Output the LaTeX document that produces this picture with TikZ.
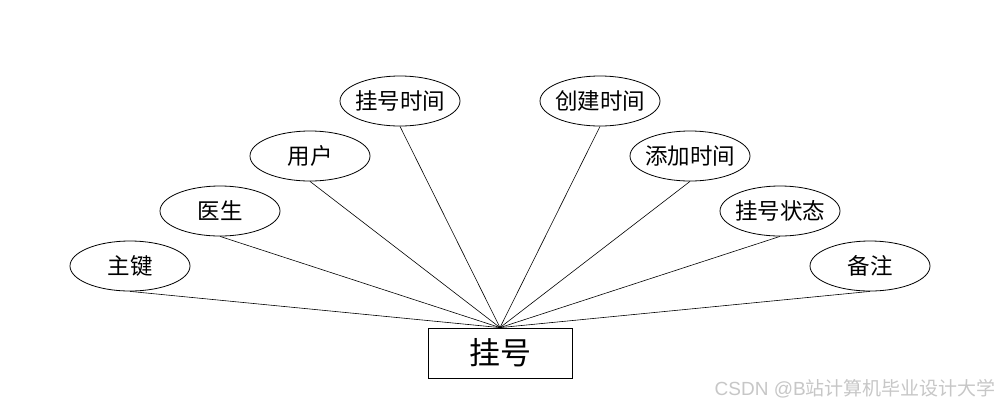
\documentclass[tikz,border=0pt]{standalone}
\usepackage{fontspec}
\setmainfont{Noto Sans CJK SC}
\newfontfamily\wmfont{Liberation Sans}
\newfontfamily\cjk{Noto Sans CJK SC}
\usetikzlibrary{shapes.geometric}
\begin{document}
\begin{tikzpicture}[x=1pt,y=-1pt,
  attr/.style={draw=black, line width=0.8pt, ellipse, minimum width=120pt, minimum height=50pt, inner xsep=-8pt, inner ysep=0pt, font=\cjk\fontsize{22.5}{22.5}\selectfont},
  ent/.style={draw=black, line width=0.8pt, rectangle, minimum width=144pt, minimum height=50pt, inner sep=0pt, font=\cjk\fontsize{31}{31}\selectfont},
  conn/.style={draw=black, line width=0.6pt}]
\useasboundingbox (0,0) rectangle (1000,408);
\fill[white] (0,0) rectangle (1000,408);
\node[ent] (e) at (500,353) {挂号};
\node[attr] (a1) at (130,266) {主键};
\node[attr] (a2) at (220,211) {医生};
\node[attr] (a3) at (310,156) {用户};
\node[attr] (a4) at (400,101) {挂号时间};
\node[attr] (a5) at (600,101) {创建时间};
\node[attr] (a6) at (690,156) {添加时间};
\node[attr] (a7) at (780,211) {挂号状态};
\node[attr] (a8) at (870,266) {备注};
\foreach \i in {1,...,8} \draw[conn] (a\i.south) -- (e.north);
\node[anchor=east, text=black!22, inner sep=0pt, font=\fontsize{19}{19}\selectfont] (wm) at (996,389) {{\wmfont CSDN @B}{\cjk 站计算机毕业设计大学}};
\end{tikzpicture}
\end{document}
